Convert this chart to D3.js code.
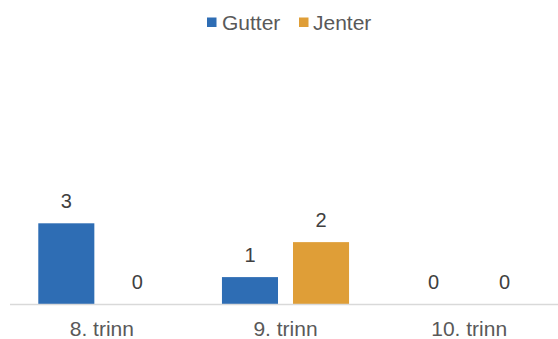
<!DOCTYPE html>
<html>
<head>
<meta charset="utf-8">
<script src="https://cdn.jsdelivr.net/npm/d3@7"></script>
<style>
html,body{margin:0;padding:0;background:#fff;}
svg{display:block;font-family:"Liberation Sans",Arial,sans-serif;}
</style>
</head>
<body>
<svg id="chart" width="558" height="339"></svg>
<script>
const categories = ["8. trinn", "9. trinn", "10. trinn"];
const seriesNames = ["Gutter", "Jenter"];
const gutter = [3, 1, 0];
const jenter = [0, 2.3, 0];
const colors = ["#2E6DB4", "#DF9E37"];

const svg = d3.select("#chart");
const W = 558, H = 339;
const baseY = 304;

const x0 = d3.scaleBand().domain(categories).range([10, 561]).padding(0);
const inner = x0.bandwidth() * 0.154;
const x1 = d3.scaleBand().domain(seriesNames)
  .range([inner, x0.bandwidth() - inner]).paddingInner(0.211).paddingOuter(0);
const y = d3.scaleLinear().domain([0, 3]).range([baseY, 223.3]);

const rows = categories.map((c, i) => ({cat: c, vals: [
  {s: seriesNames[0], v: gutter[i]},
  {s: seriesNames[1], v: jenter[i]}
]}));

const groups = svg.append("g").selectAll("g").data(rows).join("g")
  .attr("transform", d => `translate(${x0(d.cat)},0)`);

groups.selectAll("rect").data(d => d.vals).join("rect")
  .attr("x", d => x1(d.s))
  .attr("width", x1.bandwidth())
  .attr("y", d => y(d.v))
  .attr("height", d => y(0) - y(d.v))
  .attr("fill", d => colors[seriesNames.indexOf(d.s)]);

const fmt = d3.format(".0f");
groups.selectAll("text").data(d => d.vals).join("text")
  .attr("x", d => x1(d.s) + x1.bandwidth() / 2)
  .attr("y", d => y(d.v) - 15.5)
  .attr("text-anchor", "middle")
  .attr("font-size", 20)
  .attr("fill", "#404040")
  .text(d => fmt(d.v));

// axis line
svg.append("line")
  .attr("x1", 10).attr("x2", 558)
  .attr("y1", baseY + 0.5).attr("y2", baseY + 0.5)
  .attr("stroke", "#d9d9d9").attr("stroke-width", 1.5);

// category axis
const xAxis = d3.axisBottom(x0).tickSize(0).tickPadding(0);
const ax = svg.append("g").attr("transform", `translate(0,${baseY})`).call(xAxis);
ax.select(".domain").remove();
ax.selectAll("text")
  .attr("font-size", 21)
  .attr("font-family", "\"Liberation Sans\",Arial,sans-serif")
  .attr("fill", "#595959")
  .attr("dy", null)
  .attr("y", 32);

// legend
const legendItems = [
  {name: seriesNames[0], sx: 207, tx: 222},
  {name: seriesNames[1], sx: 299, tx: 313}
];
const lg = svg.append("g");
legendItems.forEach((it, i) => {
  lg.append("rect").attr("x", it.sx).attr("y", 17.5).attr("width", 9.5).attr("height", 9.5)
    .attr("fill", colors[i]);
  lg.append("text").attr("x", it.tx).attr("y", 30)
    .attr("font-size", 21).attr("fill", "#595959").text(it.name);
});
</script>
</body>
</html>
